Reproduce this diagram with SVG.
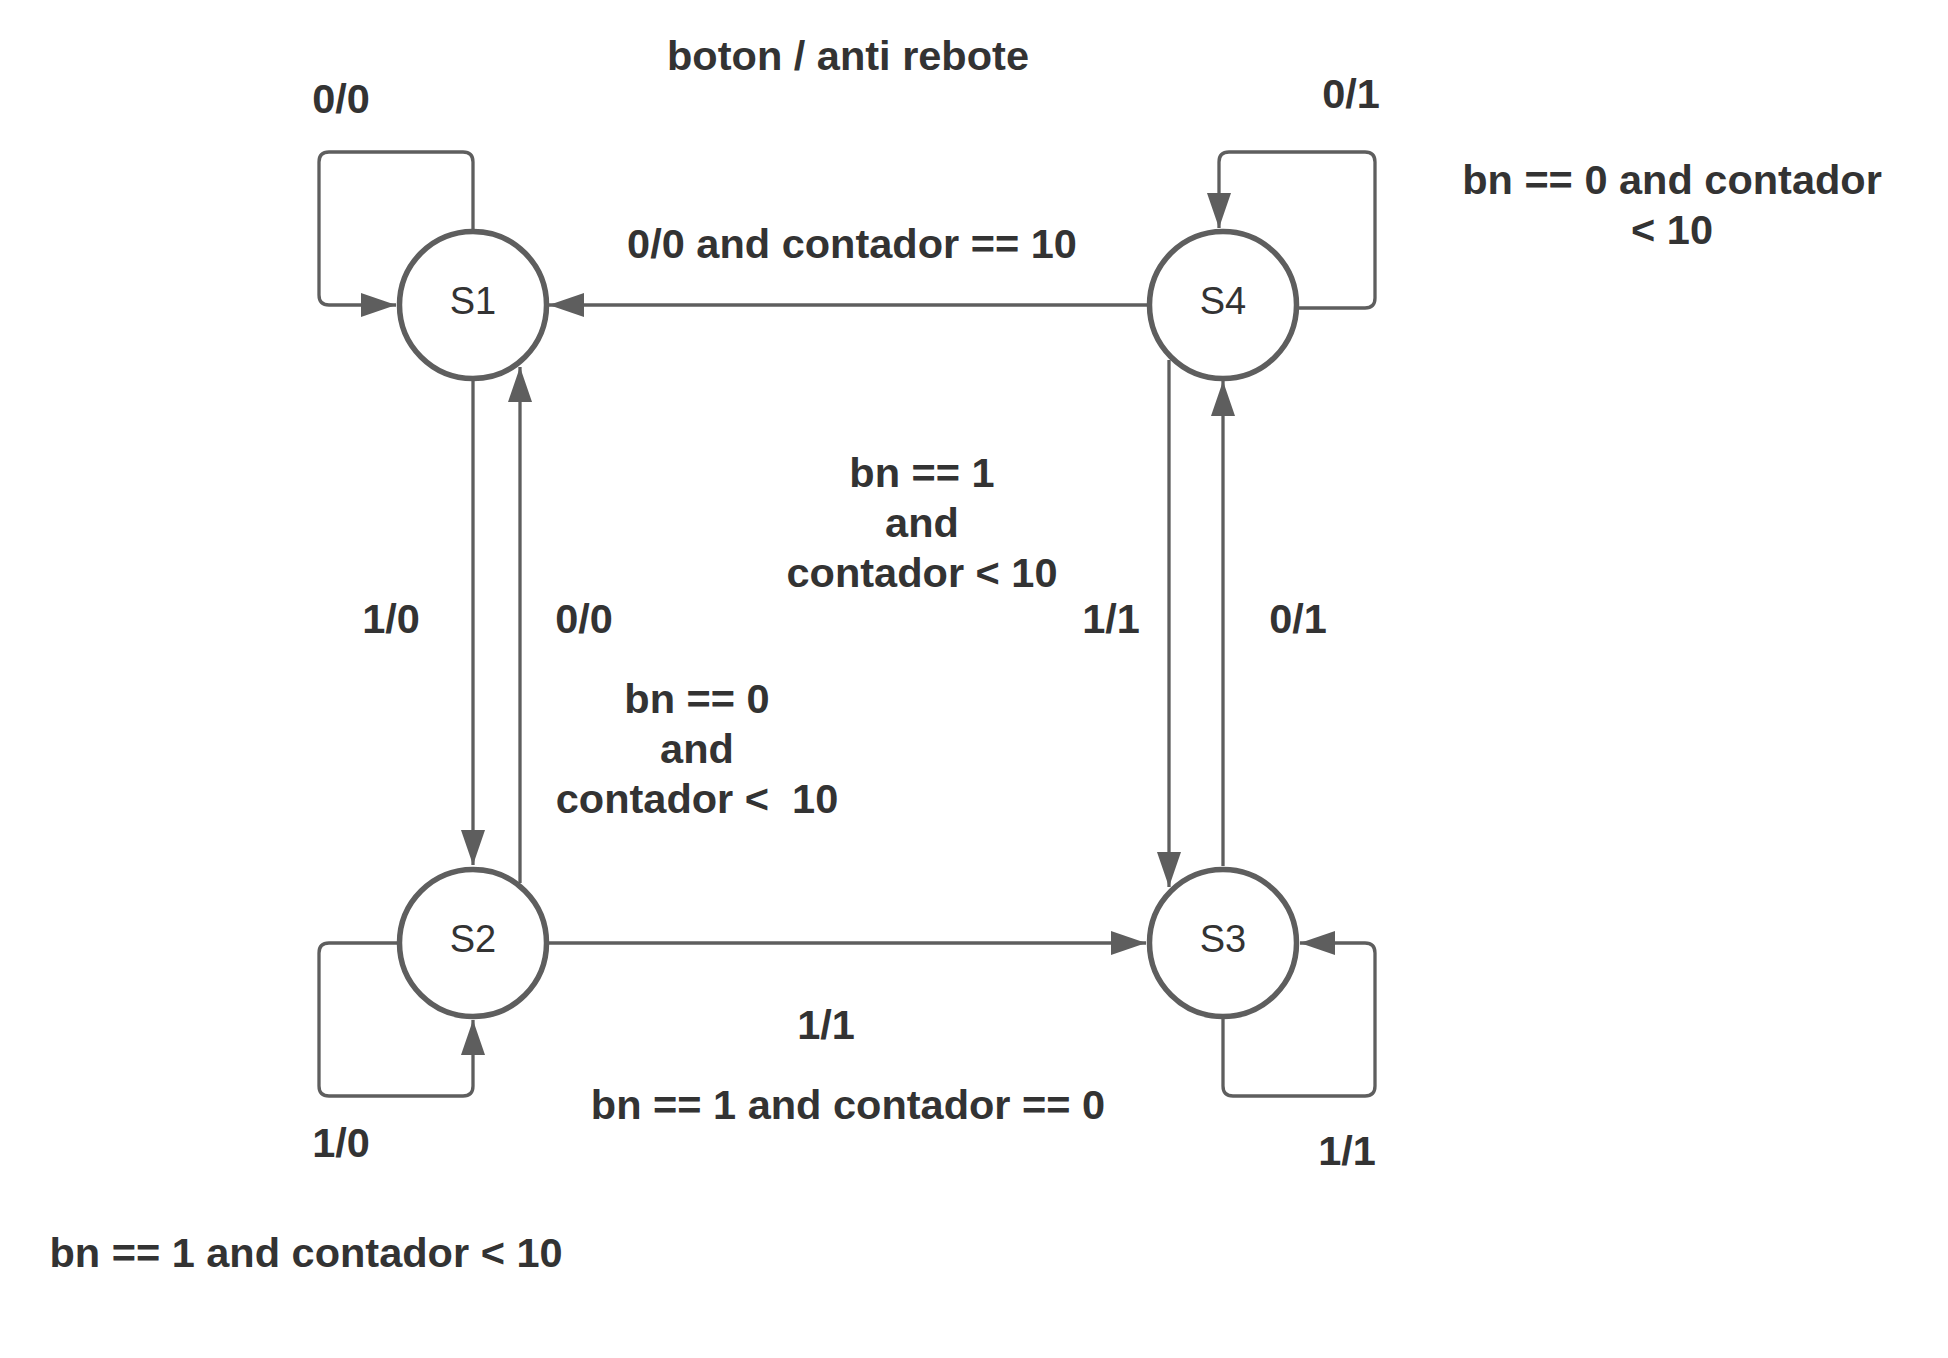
<svg xmlns="http://www.w3.org/2000/svg" width="1948" height="1358" viewBox="0 0 1948 1358">
<style>
.node{fill:#fff;stroke:#5e5e5e;stroke-width:5.5}
.st{font-family:"Liberation Sans",Arial,sans-serif;font-size:38px;fill:#333;text-anchor:middle}
.lbl{font-family:"Liberation Sans",Arial,sans-serif;font-size:41.5px;font-weight:bold;fill:#333;text-anchor:middle}
.edge{fill:none;stroke:#5e5e5e;stroke-width:3.3;marker-end:url(#arr)}
</style>
<defs>
<marker id="arr" markerUnits="userSpaceOnUse" markerWidth="36" markerHeight="24" refX="35" refY="12" orient="auto">
<path d="M0,0 L35,12 L0,24 z" fill="#5e5e5e"/>
</marker>
</defs>
<rect width="1948" height="1358" fill="#fff"/>
<g id="connectors">
<path class="edge" d="M473,231 L473,162 Q473,152 463,152 L329,152 Q319,152 319,162 L319,295 Q319,305 329,305 L396,305"/>
<path class="edge" d="M1147,305 L549,305"/>
<path class="edge" d="M1299,308 L1365,308 Q1375,308 1375,298 L1375,162 Q1375,152 1365,152 L1229,152 Q1219,152 1219,162 L1219,228"/>
<path class="edge" d="M473,381 L473,865"/>
<path class="edge" d="M520,883 L520,367"/>
<path class="edge" d="M397,943 L329,943 Q319,943 319,953 L319,1086 Q319,1096 329,1096 L463,1096 Q473,1096 473,1086 L473,1020"/>
<path class="edge" d="M549,943 L1146,943"/>
<path class="edge" d="M1169,360 L1169,887"/>
<path class="edge" d="M1223,866 L1223,381"/>
<path class="edge" d="M1223,1019 L1223,1086 Q1223,1096 1233,1096 L1365,1096 Q1375,1096 1375,1086 L1375,953 Q1375,943 1365,943 L1300,943"/>
</g>
<g id="S1"><circle class="node" cx="473" cy="305" r="73.5"/><text class="st" x="473" y="314">S1</text></g>
<g id="S2"><circle class="node" cx="473" cy="943" r="73.5"/><text class="st" x="473" y="952">S2</text></g>
<g id="S3"><circle class="node" cx="1223" cy="943" r="73.5"/><text class="st" x="1223" y="952">S3</text></g>
<g id="S4"><circle class="node" cx="1223" cy="305" r="73.5"/><text class="st" x="1223" y="314">S4</text></g>
<g id="labels">
<text class="lbl" x="848" y="70">boton / anti rebote</text>
<text class="lbl" x="341" y="113">0/0</text>
<text class="lbl" x="1351" y="108">0/1</text>
<text class="lbl" x="1672" y="194">bn == 0 and contador</text>
<text class="lbl" x="1672" y="244">&lt; 10</text>
<text class="lbl" x="852" y="258">0/0 and contador == 10</text>
<text class="lbl" x="922" y="487">bn == 1</text>
<text class="lbl" x="922" y="537">and</text>
<text class="lbl" x="922" y="587">contador &lt; 10</text>
<text class="lbl" x="391" y="633">1/0</text>
<text class="lbl" x="584" y="633">0/0</text>
<text class="lbl" x="1111" y="633">1/1</text>
<text class="lbl" x="1298" y="633">0/1</text>
<text class="lbl" x="697" y="713">bn == 0</text>
<text class="lbl" x="697" y="763">and</text>
<text class="lbl" x="697" y="813" xml:space="preserve" style="white-space:pre">contador &lt;  10</text>
<text class="lbl" x="826" y="1039">1/1</text>
<text class="lbl" x="848" y="1119">bn == 1 and contador == 0</text>
<text class="lbl" x="341" y="1157">1/0</text>
<text class="lbl" x="1347" y="1165">1/1</text>
<text class="lbl" x="306" y="1267">bn == 1 and contador &lt; 10</text>
</g>
</svg>
